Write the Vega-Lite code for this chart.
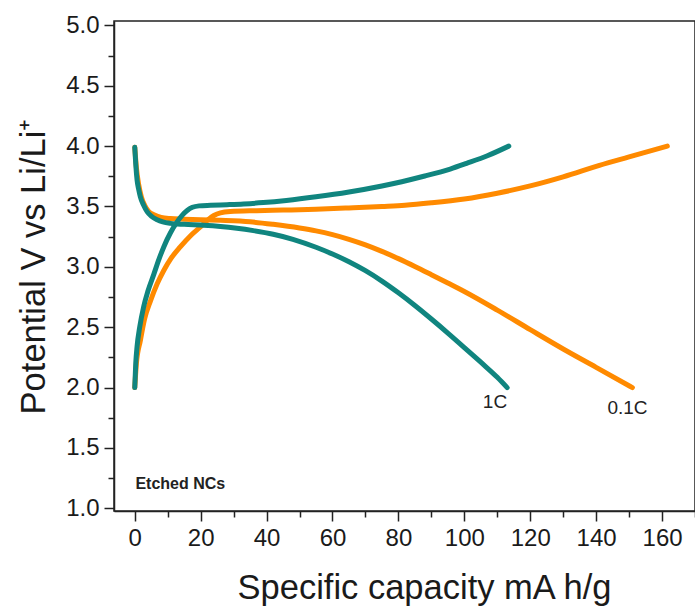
{
  "$schema": "https://vega.github.io/schema/vega-lite/v6.json",
  "width": 581,
  "height": 490,
  "autosize": "none",
  "padding": {"left": 114, "top": 21, "right": 0, "bottom": 96},
  "background": "white",
  "config": {
    "view": {"stroke": "#222222", "strokeWidth": 1.5},
    "font": "Liberation Sans"
  },
  "datasets": {
    "curves": [
      {"rate": "0.1C", "curve": "0.1C charge", "cap": 0, "v": 2.0},
      {"rate": "0.1C", "curve": "0.1C charge", "cap": 0.5, "v": 2.2},
      {"rate": "0.1C", "curve": "0.1C charge", "cap": 1.7, "v": 2.39},
      {"rate": "0.1C", "curve": "0.1C charge", "cap": 3, "v": 2.57},
      {"rate": "0.1C", "curve": "0.1C charge", "cap": 4.8, "v": 2.72},
      {"rate": "0.1C", "curve": "0.1C charge", "cap": 6.8, "v": 2.86},
      {"rate": "0.1C", "curve": "0.1C charge", "cap": 8.8, "v": 2.97},
      {"rate": "0.1C", "curve": "0.1C charge", "cap": 11, "v": 3.07},
      {"rate": "0.1C", "curve": "0.1C charge", "cap": 13.8, "v": 3.165},
      {"rate": "0.1C", "curve": "0.1C charge", "cap": 17, "v": 3.26},
      {"rate": "0.1C", "curve": "0.1C charge", "cap": 19.9, "v": 3.33},
      {"rate": "0.1C", "curve": "0.1C charge", "cap": 22, "v": 3.385},
      {"rate": "0.1C", "curve": "0.1C charge", "cap": 24, "v": 3.425},
      {"rate": "0.1C", "curve": "0.1C charge", "cap": 26, "v": 3.447},
      {"rate": "0.1C", "curve": "0.1C charge", "cap": 29, "v": 3.458},
      {"rate": "0.1C", "curve": "0.1C charge", "cap": 37, "v": 3.465},
      {"rate": "0.1C", "curve": "0.1C charge", "cap": 45, "v": 3.47},
      {"rate": "0.1C", "curve": "0.1C charge", "cap": 55, "v": 3.477},
      {"rate": "0.1C", "curve": "0.1C charge", "cap": 65, "v": 3.488},
      {"rate": "0.1C", "curve": "0.1C charge", "cap": 75, "v": 3.5},
      {"rate": "0.1C", "curve": "0.1C charge", "cap": 82, "v": 3.51},
      {"rate": "0.1C", "curve": "0.1C charge", "cap": 90, "v": 3.53},
      {"rate": "0.1C", "curve": "0.1C charge", "cap": 100, "v": 3.562},
      {"rate": "0.1C", "curve": "0.1C charge", "cap": 110, "v": 3.61},
      {"rate": "0.1C", "curve": "0.1C charge", "cap": 120, "v": 3.67},
      {"rate": "0.1C", "curve": "0.1C charge", "cap": 130, "v": 3.745},
      {"rate": "0.1C", "curve": "0.1C charge", "cap": 141, "v": 3.84},
      {"rate": "0.1C", "curve": "0.1C charge", "cap": 150, "v": 3.91},
      {"rate": "0.1C", "curve": "0.1C charge", "cap": 161.6, "v": 4.0},
      {"rate": "0.1C", "curve": "0.1C discharge", "cap": 0, "v": 3.99},
      {"rate": "0.1C", "curve": "0.1C discharge", "cap": 0.5, "v": 3.82},
      {"rate": "0.1C", "curve": "0.1C discharge", "cap": 1.2, "v": 3.68},
      {"rate": "0.1C", "curve": "0.1C discharge", "cap": 2, "v": 3.58},
      {"rate": "0.1C", "curve": "0.1C discharge", "cap": 3, "v": 3.51},
      {"rate": "0.1C", "curve": "0.1C discharge", "cap": 4.2, "v": 3.46},
      {"rate": "0.1C", "curve": "0.1C discharge", "cap": 6, "v": 3.43},
      {"rate": "0.1C", "curve": "0.1C discharge", "cap": 8, "v": 3.41},
      {"rate": "0.1C", "curve": "0.1C discharge", "cap": 10.8, "v": 3.4},
      {"rate": "0.1C", "curve": "0.1C discharge", "cap": 15, "v": 3.395},
      {"rate": "0.1C", "curve": "0.1C discharge", "cap": 20, "v": 3.39},
      {"rate": "0.1C", "curve": "0.1C discharge", "cap": 26, "v": 3.385},
      {"rate": "0.1C", "curve": "0.1C discharge", "cap": 35, "v": 3.373},
      {"rate": "0.1C", "curve": "0.1C discharge", "cap": 42, "v": 3.352},
      {"rate": "0.1C", "curve": "0.1C discharge", "cap": 50, "v": 3.322},
      {"rate": "0.1C", "curve": "0.1C discharge", "cap": 55, "v": 3.298},
      {"rate": "0.1C", "curve": "0.1C discharge", "cap": 60, "v": 3.267},
      {"rate": "0.1C", "curve": "0.1C discharge", "cap": 65, "v": 3.228},
      {"rate": "0.1C", "curve": "0.1C discharge", "cap": 70, "v": 3.182},
      {"rate": "0.1C", "curve": "0.1C discharge", "cap": 75, "v": 3.128},
      {"rate": "0.1C", "curve": "0.1C discharge", "cap": 80, "v": 3.068},
      {"rate": "0.1C", "curve": "0.1C discharge", "cap": 85, "v": 3.003},
      {"rate": "0.1C", "curve": "0.1C discharge", "cap": 90, "v": 2.935},
      {"rate": "0.1C", "curve": "0.1C discharge", "cap": 95, "v": 2.866},
      {"rate": "0.1C", "curve": "0.1C discharge", "cap": 100, "v": 2.796},
      {"rate": "0.1C", "curve": "0.1C discharge", "cap": 110, "v": 2.642},
      {"rate": "0.1C", "curve": "0.1C discharge", "cap": 120, "v": 2.48},
      {"rate": "0.1C", "curve": "0.1C discharge", "cap": 130, "v": 2.32},
      {"rate": "0.1C", "curve": "0.1C discharge", "cap": 140, "v": 2.168},
      {"rate": "0.1C", "curve": "0.1C discharge", "cap": 151, "v": 2.0},
      {"rate": "1C", "curve": "1C charge", "cap": 0, "v": 2.0},
      {"rate": "1C", "curve": "1C charge", "cap": 0.3, "v": 2.2},
      {"rate": "1C", "curve": "1C charge", "cap": 0.7, "v": 2.34},
      {"rate": "1C", "curve": "1C charge", "cap": 1.5, "v": 2.5},
      {"rate": "1C", "curve": "1C charge", "cap": 2.7, "v": 2.67},
      {"rate": "1C", "curve": "1C charge", "cap": 4, "v": 2.8},
      {"rate": "1C", "curve": "1C charge", "cap": 5.8, "v": 2.94},
      {"rate": "1C", "curve": "1C charge", "cap": 7.3, "v": 3.06},
      {"rate": "1C", "curve": "1C charge", "cap": 8.8, "v": 3.165},
      {"rate": "1C", "curve": "1C charge", "cap": 10.8, "v": 3.28},
      {"rate": "1C", "curve": "1C charge", "cap": 12.8, "v": 3.37},
      {"rate": "1C", "curve": "1C charge", "cap": 14.5, "v": 3.43},
      {"rate": "1C", "curve": "1C charge", "cap": 15.9, "v": 3.467},
      {"rate": "1C", "curve": "1C charge", "cap": 17.5, "v": 3.493},
      {"rate": "1C", "curve": "1C charge", "cap": 19.5, "v": 3.505},
      {"rate": "1C", "curve": "1C charge", "cap": 23, "v": 3.51},
      {"rate": "1C", "curve": "1C charge", "cap": 28, "v": 3.515},
      {"rate": "1C", "curve": "1C charge", "cap": 33, "v": 3.521},
      {"rate": "1C", "curve": "1C charge", "cap": 39, "v": 3.532},
      {"rate": "1C", "curve": "1C charge", "cap": 46, "v": 3.55},
      {"rate": "1C", "curve": "1C charge", "cap": 55, "v": 3.58},
      {"rate": "1C", "curve": "1C charge", "cap": 65, "v": 3.62},
      {"rate": "1C", "curve": "1C charge", "cap": 75, "v": 3.67},
      {"rate": "1C", "curve": "1C charge", "cap": 81, "v": 3.705},
      {"rate": "1C", "curve": "1C charge", "cap": 88, "v": 3.752},
      {"rate": "1C", "curve": "1C charge", "cap": 95.7, "v": 3.81},
      {"rate": "1C", "curve": "1C charge", "cap": 100.7, "v": 3.857},
      {"rate": "1C", "curve": "1C charge", "cap": 107, "v": 3.92},
      {"rate": "1C", "curve": "1C charge", "cap": 113.5, "v": 4.0},
      {"rate": "1C", "curve": "1C discharge", "cap": 0, "v": 3.99},
      {"rate": "1C", "curve": "1C discharge", "cap": 0.3, "v": 3.85},
      {"rate": "1C", "curve": "1C discharge", "cap": 0.7, "v": 3.72},
      {"rate": "1C", "curve": "1C discharge", "cap": 1.2, "v": 3.64},
      {"rate": "1C", "curve": "1C discharge", "cap": 1.7, "v": 3.58},
      {"rate": "1C", "curve": "1C discharge", "cap": 2.7, "v": 3.51},
      {"rate": "1C", "curve": "1C discharge", "cap": 3.8, "v": 3.455},
      {"rate": "1C", "curve": "1C discharge", "cap": 5, "v": 3.42},
      {"rate": "1C", "curve": "1C discharge", "cap": 6.8, "v": 3.39},
      {"rate": "1C", "curve": "1C discharge", "cap": 8.5, "v": 3.372},
      {"rate": "1C", "curve": "1C discharge", "cap": 10.8, "v": 3.36},
      {"rate": "1C", "curve": "1C discharge", "cap": 15, "v": 3.352},
      {"rate": "1C", "curve": "1C discharge", "cap": 20.9, "v": 3.345},
      {"rate": "1C", "curve": "1C discharge", "cap": 26, "v": 3.335},
      {"rate": "1C", "curve": "1C discharge", "cap": 31, "v": 3.32},
      {"rate": "1C", "curve": "1C discharge", "cap": 36, "v": 3.3},
      {"rate": "1C", "curve": "1C discharge", "cap": 42, "v": 3.27},
      {"rate": "1C", "curve": "1C discharge", "cap": 48, "v": 3.228},
      {"rate": "1C", "curve": "1C discharge", "cap": 55, "v": 3.162},
      {"rate": "1C", "curve": "1C discharge", "cap": 60, "v": 3.106},
      {"rate": "1C", "curve": "1C discharge", "cap": 65, "v": 3.042},
      {"rate": "1C", "curve": "1C discharge", "cap": 70, "v": 2.968},
      {"rate": "1C", "curve": "1C discharge", "cap": 75, "v": 2.882},
      {"rate": "1C", "curve": "1C discharge", "cap": 80, "v": 2.785},
      {"rate": "1C", "curve": "1C discharge", "cap": 85, "v": 2.68},
      {"rate": "1C", "curve": "1C discharge", "cap": 90, "v": 2.568},
      {"rate": "1C", "curve": "1C discharge", "cap": 95, "v": 2.452},
      {"rate": "1C", "curve": "1C discharge", "cap": 100, "v": 2.332},
      {"rate": "1C", "curve": "1C discharge", "cap": 105, "v": 2.21},
      {"rate": "1C", "curve": "1C discharge", "cap": 110, "v": 2.085},
      {"rate": "1C", "curve": "1C discharge", "cap": 113, "v": 2.0}
    ],
    "notes": [
      {"label": "1C", "cap": 109.3, "v": 1.88, "kind": "rate"},
      {"label": "0.1C", "cap": 149.5, "v": 1.83, "kind": "rate"},
      {"label": "Etched NCs", "cap": 0.2, "v": 1.2, "kind": "sample"}
    ]
  },
  "encoding": {
    "x": {
      "field": "cap",
      "type": "quantitative",
      "scale": {"domain": [-6.3, 170], "nice": false, "zero": false},
      "axis": {
        "title": "Specific capacity mA h/g",
        "values": [0, 10, 20, 30, 40, 50, 60, 70, 80, 90, 100, 110, 120, 130, 140, 150, 160, 170],
        "labelExpr": "datum.value % 20 === 0 ? datum.label : ''",
        "labelOverlap": false,
        "labelFlush": false,
        "labelFontSize": 24,
        "labelColor": "#1a1a1a",
        "labelPadding": 5,
        "tickSize": {"condition": {"test": "datum.value % 20 === 0", "value": 10}, "value": 6},
        "tickColor": "#222222",
        "tickWidth": 1.5,
        "domainColor": "#222222",
        "domainWidth": 1.5,
        "grid": false,
        "titleFontSize": 34.5,
        "titleFontWeight": "normal",
        "titleColor": "#1a1a1a",
        "titleBaseline": "alphabetic",
        "titleAlign": "center",
        "titleAnchor": "start",
        "titleX": 310,
        "titleY": 87
      }
    },
    "y": {
      "field": "v",
      "type": "quantitative",
      "scale": {"domain": [0.978, 5.036], "nice": false, "zero": false},
      "axis": {
        "title": "Potential V vs Li/Li⁺",
        "values": [1.0, 1.25, 1.5, 1.75, 2.0, 2.25, 2.5, 2.75, 3.0, 3.25, 3.5, 3.75, 4.0, 4.25, 4.5, 4.75, 5.0],
        "labelExpr": "abs(datum.value * 2 - round(datum.value * 2)) < 0.01 ? format(datum.value, '.1f') : ''",
        "labelOverlap": false,
        "labelFlush": false,
        "labelFontSize": 24,
        "labelColor": "#1a1a1a",
        "labelPadding": 5,
        "tickSize": {"condition": {"test": "abs(datum.value * 2 - round(datum.value * 2)) < 0.01", "value": 10}, "value": 6},
        "tickColor": "#222222",
        "tickWidth": 1.5,
        "domainColor": "#222222",
        "domainWidth": 1.5,
        "grid": false,
        "titleFontSize": 34.5,
        "titleFontWeight": "normal",
        "titleColor": "#1a1a1a",
        "titleAngle": -90,
        "titleBaseline": "alphabetic",
        "titleAlign": "center",
        "titleAnchor": "start",
        "titleX": -70,
        "titleY": 245
      }
    }
  },
  "layer": [
    {
      "data": {"name": "curves"},
      "transform": [{"filter": "datum.rate === '0.1C'"}],
      "mark": {"type": "line", "color": "#ff8a00", "strokeWidth": 5, "strokeCap": "round", "strokeJoin": "round", "interpolate": "monotone"},
      "encoding": {"detail": {"field": "curve", "type": "nominal"}}
    },
    {
      "data": {"name": "curves"},
      "transform": [{"filter": "datum.rate === '1C'"}],
      "mark": {"type": "line", "color": "#10857f", "strokeWidth": 5, "strokeCap": "round", "strokeJoin": "round", "interpolate": "monotone"},
      "encoding": {"detail": {"field": "curve", "type": "nominal"}}
    },
    {
      "data": {"name": "notes"},
      "transform": [{"filter": "datum.kind === 'rate'"}],
      "mark": {"type": "text", "fontSize": 19, "color": "#222222", "align": "center", "baseline": "middle"},
      "encoding": {"text": {"field": "label"}}
    },
    {
      "data": {"name": "notes"},
      "transform": [{"filter": "datum.kind === 'sample'"}],
      "mark": {"type": "text", "fontSize": 16, "fontWeight": "bold", "color": "#222222", "align": "left", "baseline": "middle"},
      "encoding": {"text": {"field": "label"}}
    }
  ]
}
